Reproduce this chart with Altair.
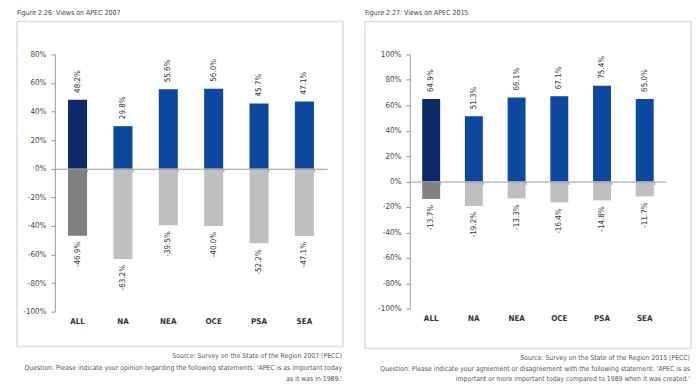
import altair as alt
import pandas as pd

regions = ["ALL", "NA", "NEA", "OCE", "PSA", "SEA"]
agree_2007 = [48.2, 29.8, 55.6, 56.0, 45.7, 47.1]
disagree_2007 = [-46.9, -63.2, -39.5, -40.0, -52.2, -47.1]
agree_2015 = [64.9, 51.3, 66.1, 67.1, 75.4, 65.0]
disagree_2015 = [-13.7, -19.2, -13.3, -16.4, -14.8, -11.7]

title_2007 = "Figure 2.26: Views on APEC 2007"
title_2015 = "Figure 2.27: Views on APEC 2015"
notes_2007 = [
    "Source: Survey on the State of the Region 2007 (PECC)",
    "Question: Please indicate your opinion regarding the following statements: 'APEC is as important today",
    "as it was in 1989.'",
]
notes_2015 = [
    "Source: Survey on the State of the Region 2015 (PECC)",
    "Question: Please indicate your agreement or disagreement with the following statement: 'APEC is as",
    "important or more important today compared to 1989 when it was created.'",
]

FONT = "DejaVu Sans Condensed"
KINDS = ["allpos", "pos", "allneg", "neg"]
COLORS = ["#0b2a68", "#0d48a0", "#808080", "#bfbfbf"]


def panel(agree, disagree, ymin, ymax, w, h, box, title, notes, note_ys, ystep=20):
    rows = []
    for r, a, d in zip(regions, agree, disagree):
        rows.append({"region": r, "value": a, "label": f"{a:.1f}%",
                     "kind": "allpos" if r == "ALL" else "pos", "sign": "pos"})
        rows.append({"region": r, "value": d, "label": f"{d:.1f}%",
                     "kind": "allneg" if r == "ALL" else "neg", "sign": "neg"})
    df = pd.DataFrame(rows)

    zero_px = h * ymax / (ymax - ymin)
    yscale = alt.Scale(domain=[ymin, ymax], nice=False, zero=False)
    xscale = alt.Scale(domain=regions, paddingInner=0.58, paddingOuter=0.29)
    yaxis = alt.Axis(values=list(range(ymin, ymax + 1, ystep)),
                     labelExpr="datum.value + '%'", title=None, grid=False,
                     labelOverlap=False, labelBound=False,
                     domainColor="#999", tickColor="#999", tickSize=4,
                     labelPadding=5, labelFontSize=8, labelColor="#444",
                     labelFont=FONT)
    xaxis = alt.Axis(orient="bottom", offset=-(h - zero_px), labels=False, ticks=True,
                     tickBand="extent", tickSize=3, tickColor="#999", domainColor="#999",
                     title=None, grid=False, zindex=1)

    base = alt.Chart(df)

    bars = base.mark_bar().encode(
        x=alt.X("region:N", sort=regions, scale=xscale, axis=xaxis),
        y=alt.Y("value:Q", scale=yscale, axis=yaxis),
        color=alt.Color("kind:N", scale=alt.Scale(domain=KINDS, range=COLORS), legend=None),
    )

    pos_text = base.transform_filter("datum.sign == 'pos'").mark_text(
        angle=270, align="left", baseline="middle", dx=7, fontSize=8, color="#333", font=FONT
    ).encode(
        x=alt.X("region:N", sort=regions, scale=xscale, axis=xaxis),
        y=alt.Y("value:Q", scale=yscale, axis=yaxis),
        text="label:N",
    )

    neg_text = base.transform_filter("datum.sign == 'neg'").mark_text(
        angle=270, align="right", baseline="middle", dx=-6, fontSize=8, color="#333", font=FONT
    ).encode(
        x=alt.X("region:N", sort=regions, scale=xscale, axis=xaxis),
        y=alt.Y("value:Q", scale=yscale, axis=yaxis),
        text="label:N",
    )

    cat_text = base.transform_filter("datum.sign == 'neg'").mark_text(
        baseline="top", dy=6, fontSize=8, fontWeight="bold", color="#333", font=FONT
    ).encode(
        x=alt.X("region:N", sort=regions, scale=xscale, axis=xaxis),
        y=alt.datum(ymin, axis=yaxis),
        text="region:N",
    )

    one = alt.Chart(pd.DataFrame({"k": [0]}))
    x0, x1, y0, y1 = box
    frame = one.mark_rect(fill=None, stroke="#d9ddf0", strokeWidth=1.5).encode(
        x=alt.value(x0), x2=alt.value(x1), y=alt.value(y0), y2=alt.value(y1)
    )
    title_mark = one.mark_text(
        align="left", baseline="alphabetic", fontSize=7, color="#444", font=FONT, text=title
    ).encode(x=alt.value(x0), y=alt.value(-40))

    note_marks = []
    for t, yy in zip(notes, note_ys):
        note_marks.append(
            one.mark_text(align="right", baseline="alphabetic", fontSize=6.85, color="#555",
                          font=FONT, text=t).encode(x=alt.value(x1 - 1), y=alt.value(yy))
        )

    layer = alt.layer(bars, pos_text, neg_text, cat_text, frame, title_mark, *note_marks).properties(
        width=w, height=h
    )
    return layer


left = panel(agree_2007, disagree_2007, -100, 80, 273, 258, (-38, 289, -33, 293),
             title_2007, notes_2007, [304.5, 316.5, 327.5])
right = panel(agree_2015, disagree_2015, -100, 100, 257, 255, (-45, 282, -33, 295),
              title_2015, notes_2015, [306.5, 317.5, 327.5])

chart = alt.hconcat(left, right, spacing=20).properties(
    padding={"left": 8, "top": 0, "right": 0, "bottom": 0}
).configure_view(stroke=None).configure_axis(labelOverlap=False)

chart.save("out.html", embed_options={"renderer": "svg", "actions": False})
